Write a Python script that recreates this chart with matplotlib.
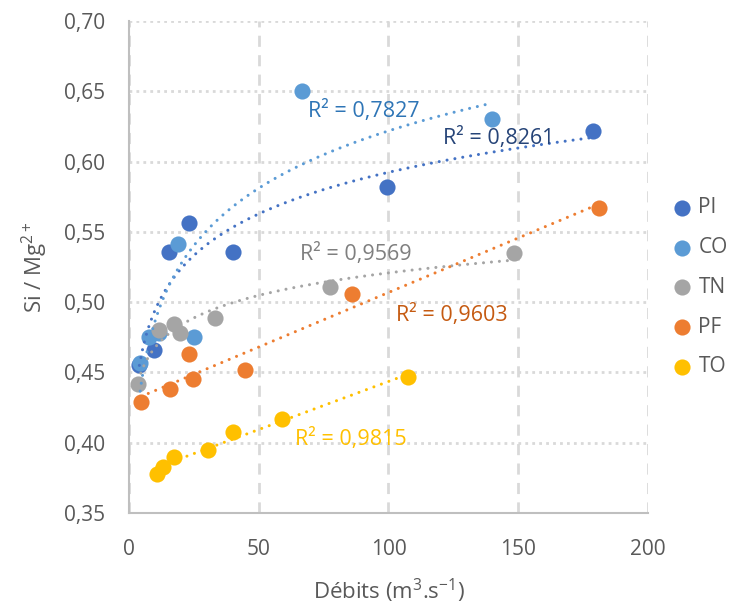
import numpy as np
from matplotlib import pyplot as plt

# values
pi_x = [4.0, 9.7, 15.5, 23.2, 39.9, 99.5, 178.8]
pi_y = [0.455, 0.466, 0.536, 0.556, 0.536, 0.582, 0.622]

co_x = [4.3, 7.8, 11.7, 18.7, 24.9, 66.5, 139.9]
co_y = [0.457, 0.475, 0.478, 0.541, 0.4755, 0.650, 0.630]

tn_x = [3.6, 11.7, 17.4, 19.7, 33.1, 77.4, 148.2]
tn_y = [0.442, 0.480, 0.4845, 0.478, 0.4886, 0.511, 0.535]

pf_x = [4.6, 15.9, 23.2, 24.5, 44.7, 85.8, 181.3]
pf_y = [0.429, 0.438, 0.463, 0.445, 0.452, 0.5057, 0.567]

to_x = [10.8, 13.0, 17.4, 30.3, 39.9, 59.1, 107.6]
to_y = [0.3778, 0.383, 0.3896, 0.395, 0.4074, 0.417, 0.4466]

series_names = ["PI", "CO", "TN", "PF", "TO"]
series_colors = ["#4472C4", "#5B9BD5", "#A5A5A5", "#ED7D31", "#FFC000"]
trend_kinds = ["log", "log", "log", "lin", "lin"]

r2_labels = ["R² = 0,8261", "R² = 0,7827", "R² = 0,9569", "R² = 0,9603", "R² = 0,9815"]
r2_pos = [(121, 0.617), (69, 0.636), (66, 0.534), (103, 0.491), (64, 0.403)]
r2_colors = ["#264478", "#2E75B6", "#7F7F7F", "#C55A11", "#FFC000"]

x_ticks = [0, 50, 100, 150, 200]
y_ticks = [0.35, 0.40, 0.45, 0.50, 0.55, 0.60, 0.65, 0.70]


def trend(x, y, kind):
    x = np.asarray(x)
    xs = np.linspace(x.min(), x.max(), 200)
    if kind == "log":
        a, b = np.polyfit(np.log(x), y, 1)
        return xs, a * np.log(xs) + b
    a, b = np.polyfit(x, y, 1)
    return xs, a * xs + b


def main():
    plt.rcParams["font.family"] = ["Open Sans", "DejaVu Sans"]
    plt.rcParams["mathtext.fontset"] = "custom"
    plt.rcParams["mathtext.rm"] = "Open Sans"
    plt.rcParams["mathtext.it"] = "Open Sans:italic"
    plt.rcParams["mathtext.bf"] = "Open Sans:bold"
    grey = "#595959"

    fig = plt.figure(figsize=(7.35, 6.09), dpi=100)
    ax = fig.add_axes([0.1755, 0.1576, 0.706, 0.808])

    data = [(pi_x, pi_y), (co_x, co_y), (tn_x, tn_y), (pf_x, pf_y), (to_x, to_y)]
    for (x, y), name, color, kind in zip(data, series_names, series_colors, trend_kinds):
        ax.scatter(x, y, s=135, color=color, label=name, zorder=3, linewidths=0)
        xs, ys = trend(x, y, kind)
        ax.plot(xs, ys, color=color, lw=2.2, linestyle=(0, (0.01, 2.6)),
                dash_capstyle="round", zorder=4)

    for text, (tx, ty), color in zip(r2_labels, r2_pos, r2_colors):
        ax.text(tx, ty, text, color=color, fontsize=15.5, va="center", ha="left", zorder=5)

    ax.set_xlim(0, 200)
    ax.set_ylim(0.35, 0.70)
    ax.set_xticks(x_ticks)
    ax.set_yticks(y_ticks)
    ax.set_yticklabels([f"{v:.2f}".replace(".", ",") for v in y_ticks])
    ax.tick_params(length=0, labelsize=15, colors=grey)
    ax.tick_params(axis="y", pad=17)
    ax.tick_params(axis="x", pad=19)

    ax.yaxis.grid(True, color="#D9D9D9", lw=2, linestyle=(0, (1, 1.5)))
    ax.xaxis.grid(True, color="#D9D9D9", lw=2, linestyle=(0, (4, 3)))
    ax.set_axisbelow(True)
    for side in ["top", "right"]:
        ax.spines[side].set_visible(False)
    for side in ["left", "bottom"]:
        ax.spines[side].set_color("#BFBFBF")
        ax.spines[side].set_linewidth(1.5)

    ax.set_xlabel(r"Débits (m$^{3}$.s$^{\mathregular{-1}}$)", fontsize=16, color=grey, labelpad=12)
    ax.set_ylabel(r"Si / Mg$^{2+}$", fontsize=16, color=grey, labelpad=10)

    fig.legend(loc="center left", bbox_to_anchor=(0.902, 0.528), frameon=False,
               fontsize=15, labelcolor=grey, handlelength=1.0, handletextpad=0.3,
               labelspacing=0.9, borderaxespad=0)

    fig.savefig("out.png", dpi=100)


if __name__ == "__main__":
    main()
